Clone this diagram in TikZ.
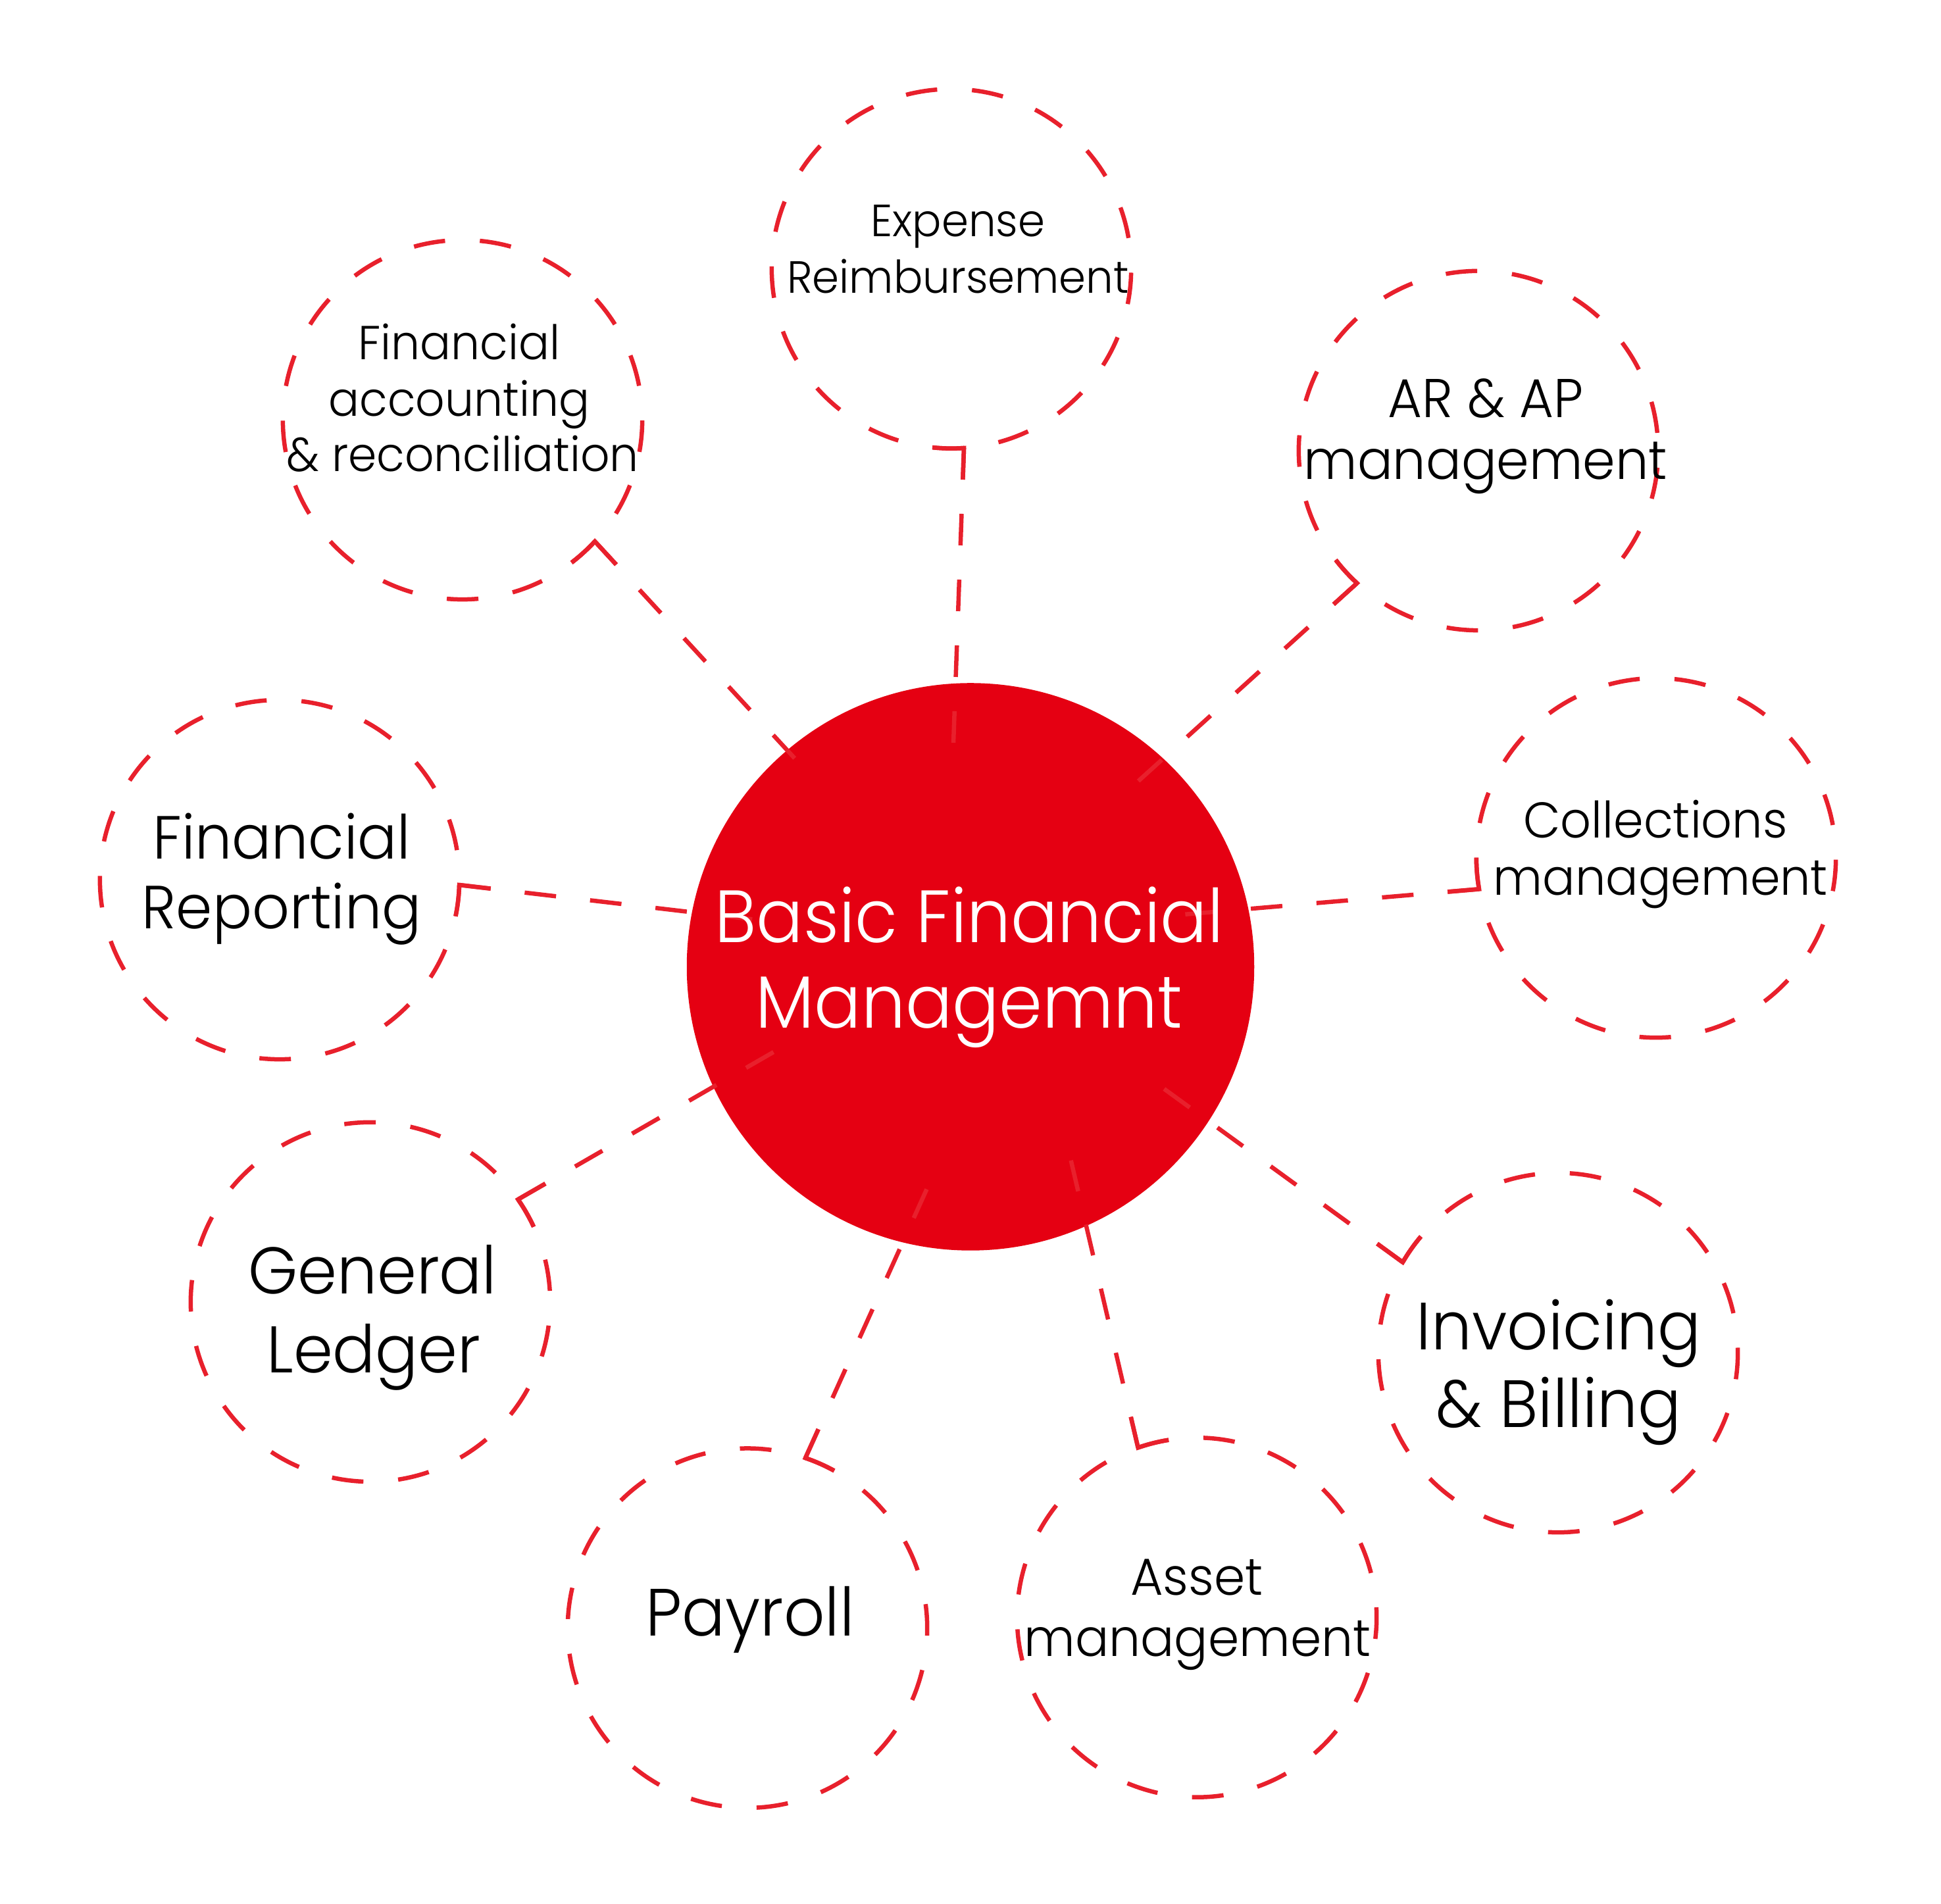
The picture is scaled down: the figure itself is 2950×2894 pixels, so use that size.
\documentclass[tikz,border=0pt]{standalone}
\usepackage{fontspec}
\setmainfont{Poppins Light}[FakeStretch=0.96]
\newfontfamily\corefont{Poppins Light}[FakeStretch=0.94]
\usetikzlibrary{calc}
\definecolor{linered}{RGB}{232,32,44}
\definecolor{corered}{RGB}{229,0,18}
\tikzset{
  connline/.style={draw=linered, line width=0.065cm, dash pattern=on 0.48cm off 0.52cm},
  ringline/.style={draw=linered, line width=0.065cm, dash pattern=on 0.48cm off 0.529cm},
  cornerline/.style={draw=linered, line width=0.065cm, line join=miter},
  lbl/.style={anchor=base, inner sep=0pt, text=black},
  fs/.style={font=\fontsize{#1}{#1}\selectfont},
  cfs/.style={font=\corefont\fontsize{#1}{#1}\selectfont}
}
\begin{document}
\begin{tikzpicture}[x=0.01cm, y=0.01cm]
\useasboundingbox (0,0) rectangle (2950,2894);
\node[circle, fill=corered, inner sep=0pt, minimum size=8.62cm] (core) at (1475,1424.5) {};
\foreach \n/\cx/\cy/\a/\sx/\sy in {
  Exp/1446/2485.5/-86.0/1449/1764,
  Acc/703/2256/-42.6/1209/1740,
  Arap/2247/2209/-132.5/1727/1704,
  Col/2517/1590/190.0/1799/1504,
  Rep/425/1557/-1.7/1149/1496,
  Gl/563/915/34.8/1181/1298,
  Pay/1136/419.3/71.2/1411/1092,
  Ast/1819/435.5/109.1/1627/1133,
  Inv/2368/838/149.8/1765/1242} {
  \coordinate (c\n) at (\cx,\cy);
  \coordinate (k\n) at ($(c\n)+(\a:2.73cm)$);
  \coordinate (s\n) at (\sx,\sy);
  \draw[connline] (k\n) -- (s\n);
  \draw[ringline] (k\n) arc[start angle=\a, delta angle=-360, radius=2.73cm];
  \draw[cornerline] ($(k\n)!0.48cm!(s\n)$) -- (k\n) arc[start angle=\a, delta angle=-10.07, radius=2.73cm];
}
% central text
\node[lbl, text=white, cfs=32pt] (tc1) at (1473,1461.3) {Basic Financial};
\node[lbl, text=white, cfs=32pt] (tc2) at (1473,1331.3) {Managemnt};
% satellites
\node[lbl, fs=19.5pt] (te1) at (1456,2534) {Expense};
\node[lbl, fs=19.5pt] (te2) at (1456,2448.3) {Reimbursement};
\node[lbl, fs=20.6pt] (ta1) at (698,2347.7) {Financial};
\node[lbl, fs=20.6pt] (ta2) at (698,2261.8) {accounting};
\node[lbl, fs=20.6pt] (ta3) at (703,2177.9) {\& reconciliation};
\node[lbl, fs=23.6pt] (tr1) at (2258,2259) {AR \& AP};
\node[lbl, fs=23.6pt] (tr2) at (2258,2165) {management};
\node[lbl, fs=21.7pt] (to1) at (2516,1620.5) {Collections};
\node[lbl, fs=21.7pt] (to2) at (2524,1533) {management};
\node[lbl, fs=26.3pt] (tp1) at (428,1588.2) {Financial};
\node[lbl, fs=26.3pt] (tp2) at (428,1482) {Reporting};
\node[lbl, fs=28.5pt] (tg1) at (566,927.4) {General};
\node[lbl, fs=28.5pt] (tg2) at (568,807.5) {Ledger};
\node[lbl, fs=28.9pt] (ty1) at (1140,407) {Payroll};
\node[lbl, fs=22.5pt] (ts1) at (1819,469) {Asset};
\node[lbl, fs=22.5pt] (ts2) at (1820,376.5) {management};
\node[lbl, fs=28.9pt] (ti1) at (2369,842.5) {Invoicing};
\node[lbl, fs=28.9pt] (ti2) at (2369,724.4) {\& Billing};
\end{tikzpicture}
\end{document}
